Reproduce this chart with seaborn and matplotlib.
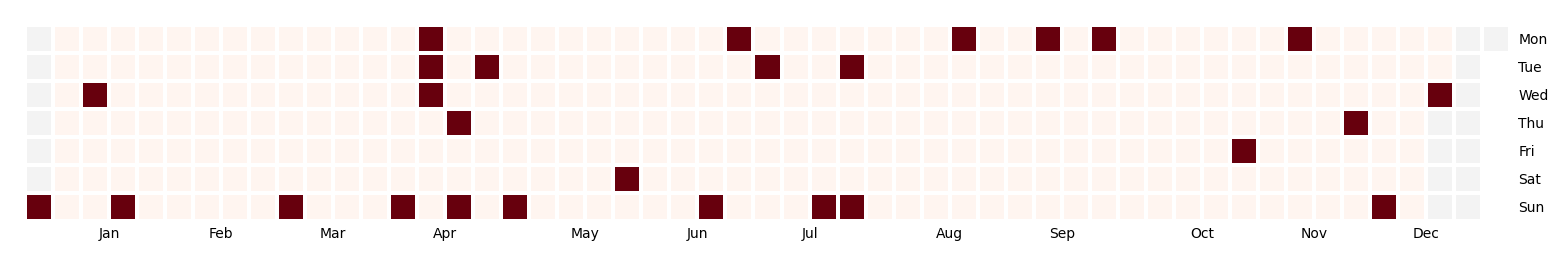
import numpy as np
import pandas as pd
import matplotlib
matplotlib.use("Agg")
import matplotlib.pyplot as plt
from matplotlib.colors import ListedColormap
import seaborn as sns

year = 2018
data_start = "2018-01-07"
data_end = "2018-12-19"
event_dates = [
    "2018-01-07", "2018-01-17", "2018-01-28", "2018-03-11",
    "2018-04-08", "2018-04-09", "2018-04-10", "2018-04-11", "2018-04-19",
    "2018-04-22", "2018-04-24", "2018-05-06", "2018-06-02", "2018-06-24",
    "2018-06-25", "2018-07-03", "2018-07-22", "2018-07-24", "2018-07-29",
    "2018-08-20", "2018-09-10", "2018-09-24", "2018-11-02", "2018-11-12",
    "2018-11-29", "2018-12-09", "2018-12-19",
]
event_values = [1] * len(event_dates)
day_labels = ["Mon", "Tue", "Wed", "Thu", "Fri", "Sat", "Sun"]
month_labels = ["Jan", "Feb", "Mar", "Apr", "May", "Jun",
                "Jul", "Aug", "Sep", "Oct", "Nov", "Dec"]

# Build daily frame
days = pd.date_range(f"{year}-01-01", f"{year}-12-31", freq="D")
df = pd.DataFrame({"date": days})
df["day"] = df["date"].dt.dayofweek
df["week"] = df["date"].dt.isocalendar().week.astype(int)
df.loc[(df["date"].dt.month == 1) & (df["week"] > 50), "week"] = 0
df.loc[(df["date"].dt.month == 12) & (df["week"] < 10), "week"] = df["week"].max() + 1
df["fill"] = 1.0
in_range = (df["date"] >= data_start) & (df["date"] <= data_end)
df["value"] = np.where(in_range, 0.0, np.nan)
ev = pd.Series(event_values, index=pd.to_datetime(event_dates))
df.loc[df["date"].isin(ev.index), "value"] = df.loc[df["date"].isin(ev.index), "date"].map(ev).astype(float)

fill_piv = df.pivot(index="day", columns="week", values="fill")
data_piv = df.pivot(index="day", columns="week", values="value")

W, H = 1564, 258
fig = plt.figure(figsize=(W / 100, H / 100), dpi=100)
ax = fig.add_axes([25 / W, (H - 221) / H, 1485 / W, 196 / H])

sns.heatmap(fill_piv, ax=ax, cmap=ListedColormap(["#f3f3f3"]), vmin=0, vmax=1,
            mask=fill_piv.isna(), cbar=False, linewidths=1.5, linecolor="white")
sns.heatmap(data_piv, ax=ax, cmap="Reds", vmin=0, vmax=1,
            mask=data_piv.isna(), cbar=False, linewidths=1.5, linecolor="white")

# Month ticks at the week number of the 15th of each month
first_week = fill_piv.columns.min()
tick_pos = []
for m in range(1, 13):
    d = pd.Timestamp(year=year, month=m, day=15)
    wk = int(df.loc[df["date"] == d, "week"].iloc[0])
    tick_pos.append(wk - first_week + (1 if first_week == 1 else 0))
ax.set_xticks(tick_pos)
ax.set_xticklabels(month_labels, rotation=0, ha="center", fontsize=10)
ax.set_yticks(np.arange(7) + 0.5)
ax.set_yticklabels(day_labels, rotation=0, fontsize=10)
ax.yaxis.tick_right()
ax.tick_params(axis="both", length=0)
ax.tick_params(axis="y", pad=6)
ax.tick_params(axis="x", pad=4)
ax.set_xlabel("")
ax.set_ylabel("")
ax.set_xlim(0, fill_piv.shape[1])
ax.set_ylim(7, 0)

fig.savefig("out.png", dpi=100)
